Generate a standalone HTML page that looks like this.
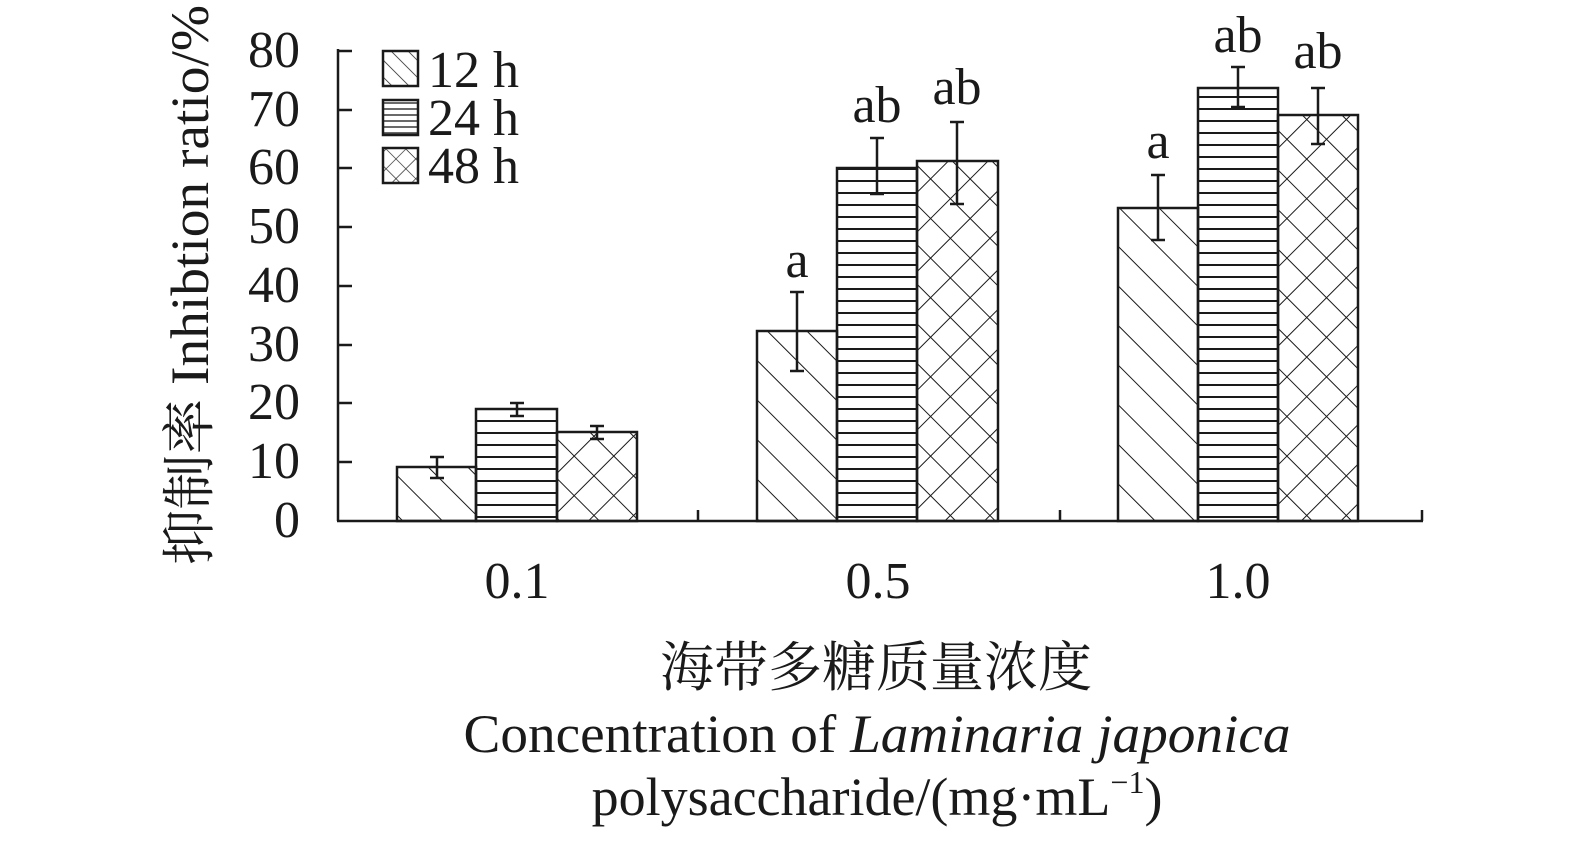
<!DOCTYPE html>
<html><head><meta charset="utf-8"><style>
html,body{margin:0;padding:0;background:#fff;width:1575px;height:841px;overflow:hidden}
text{font-family:"Liberation Serif","Noto Serif CJK SC",serif;fill:#1a1a1a}
</style></head><body>
<svg width="1575" height="841" viewBox="0 0 1575 841">
<defs>
<pattern id="diag" patternUnits="userSpaceOnUse" width="28" height="28" patternTransform="rotate(-45)">
<line x1="0" y1="0" x2="0" y2="28" stroke="#1a1a1a" stroke-width="2"/></pattern>
<pattern id="horiz" patternUnits="userSpaceOnUse" width="10" height="12">
<line x1="0" y1="1" x2="10" y2="1" stroke="#1a1a1a" stroke-width="2"/></pattern>
<pattern id="cross" patternUnits="userSpaceOnUse" width="28" height="28" patternTransform="rotate(45)">
<line x1="0" y1="0" x2="0" y2="28" stroke="#1a1a1a" stroke-width="2"/>
<line x1="0" y1="0" x2="28" y2="0" stroke="#1a1a1a" stroke-width="2"/></pattern>
<pattern id="ldiag" patternUnits="userSpaceOnUse" width="12" height="12" patternTransform="rotate(-45)">
<line x1="0" y1="0" x2="0" y2="12" stroke="#1a1a1a" stroke-width="1.5"/></pattern>
<pattern id="lhoriz" patternUnits="userSpaceOnUse" width="10" height="6">
<line x1="0" y1="1" x2="10" y2="1" stroke="#1a1a1a" stroke-width="1.3"/></pattern>
<pattern id="lcross" patternUnits="userSpaceOnUse" width="14" height="14" patternTransform="rotate(45)">
<line x1="0" y1="0" x2="0" y2="14" stroke="#1a1a1a" stroke-width="1.3"/>
<line x1="0" y1="0" x2="14" y2="0" stroke="#1a1a1a" stroke-width="1.3"/></pattern>
</defs>
<g stroke="#1a1a1a" stroke-width="2.5" fill="none">
<line x1="338" y1="49" x2="338" y2="521"/>
<line x1="337" y1="521" x2="1423" y2="521"/>
<line x1="338" y1="51" x2="352" y2="51"/><line x1="338" y1="110" x2="352" y2="110"/>
<line x1="338" y1="168" x2="352" y2="168"/><line x1="338" y1="227" x2="352" y2="227"/>
<line x1="338" y1="286" x2="352" y2="286"/><line x1="338" y1="345" x2="352" y2="345"/>
<line x1="338" y1="403" x2="352" y2="403"/><line x1="338" y1="462" x2="352" y2="462"/>
<line x1="698" y1="521" x2="698" y2="510"/><line x1="1060" y1="521" x2="1060" y2="510"/><line x1="1422" y1="521" x2="1422" y2="510"/>
</g>
<g stroke="#1a1a1a" stroke-width="2.5">
<rect x="397" y="467" width="79" height="54" fill="url(#diag)"/>
<rect x="476" y="409" width="81" height="112" fill="url(#horiz)"/>
<rect x="557" y="432" width="80" height="89" fill="url(#cross)"/>
<rect x="757" y="331" width="80" height="190" fill="url(#diag)"/>
<rect x="837" y="168" width="80" height="353" fill="url(#horiz)"/>
<rect x="917" y="161" width="81" height="360" fill="url(#cross)"/>
<rect x="1118" y="208" width="80" height="313" fill="url(#diag)"/>
<rect x="1198" y="88" width="80" height="433" fill="url(#horiz)"/>
<rect x="1278" y="115" width="80" height="406" fill="url(#cross)"/>
</g>
<g stroke="#1a1a1a" stroke-width="2.5">
<path d="M437 457V478M430 457H444M430 478H444"/>
<path d="M517 403V416M510 403H524M510 416H524"/>
<path d="M597 426V439M590 426H604M590 439H604"/>
<path d="M797 292V371M790 292H804M790 371H804"/>
<path d="M877 138V194M870 138H884M870 194H884"/>
<path d="M957 122V204M950 122H964M950 204H964"/>
<path d="M1158 175V240M1151 175H1165M1151 240H1165"/>
<path d="M1238 67V107M1231 67H1245M1231 107H1245"/>
<path d="M1318 88V144M1311 88H1325M1311 144H1325"/>
</g>
<g font-size="52" text-anchor="middle">
<text x="797" y="277">a</text><text x="877" y="122">ab</text><text x="957" y="104">ab</text>
<text x="1158" y="158">a</text><text x="1238" y="52">ab</text><text x="1318" y="68">ab</text>
</g>
<g font-size="52" text-anchor="end">
<text x="300" y="67">80</text><text x="300" y="126">70</text><text x="300" y="184">60</text>
<text x="300" y="243">50</text><text x="300" y="302">40</text><text x="300" y="361">30</text>
<text x="300" y="419">20</text><text x="300" y="478">10</text><text x="300" y="537">0</text>
</g>
<g font-size="52" text-anchor="middle">
<text x="517" y="598">0.1</text><text x="878" y="598">0.5</text><text x="1238" y="598">1.0</text>
</g>
<g stroke="#1a1a1a" stroke-width="2.5">
<rect x="383" y="51" width="35" height="35" fill="url(#ldiag)"/>
<rect x="383" y="100" width="35" height="35" fill="url(#lhoriz)"/>
<rect x="383" y="148" width="35" height="35" fill="url(#lcross)"/>
</g>
<g font-size="52">
<text x="428" y="87">12 h</text><text x="428" y="135">24 h</text><text x="428" y="183">48 h</text>
</g>
<text transform="translate(208,565) rotate(-90)" font-size="54" textLength="560" lengthAdjust="spacingAndGlyphs">抑制率 Inhibtion ratio/%</text>
<g font-size="54" text-anchor="middle">
<text x="876" y="686">海带多糖质量浓度</text>
<text x="877" y="752" textLength="827" lengthAdjust="spacingAndGlyphs">Concentration of <tspan font-style="italic">Laminaria japonica</tspan></text>
<text x="877" y="815">polysaccharide/(mg·mL<tspan font-size="32" dy="-22">−1</tspan><tspan dy="22">)</tspan></text>
</g>
</svg>
</body></html>
